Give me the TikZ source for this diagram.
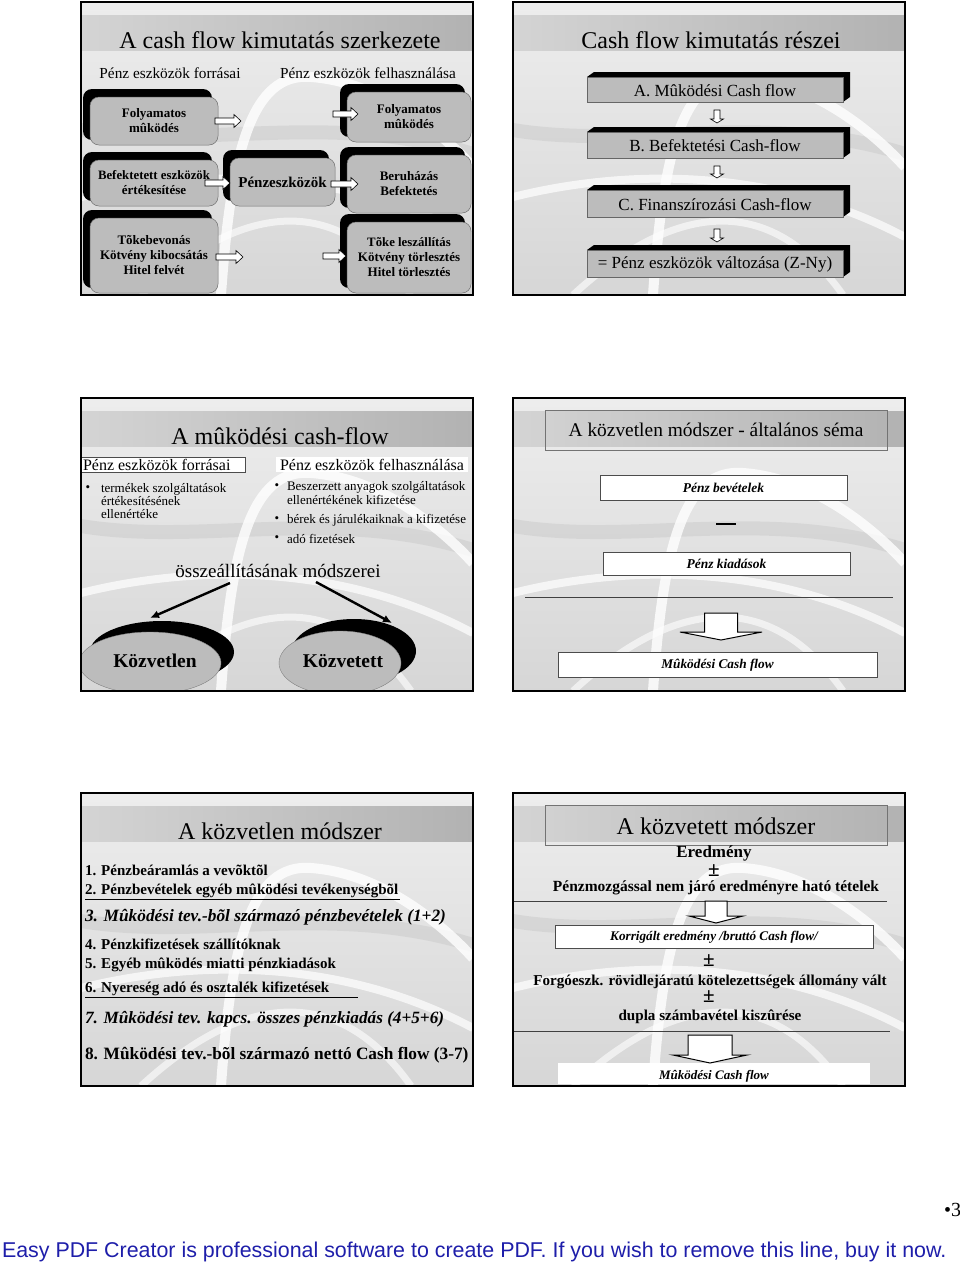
\documentclass[tikz,border=0pt]{standalone}
\usepackage{fontspec}
\setmainfont{Liberation Serif}
\newfontfamily\arialf{Liberation Sans}
\usetikzlibrary{shapes.geometric,arrows.meta}
\definecolor{bandL}{RGB}{212,212,212}
\definecolor{bandR}{RGB}{178,178,178}
\definecolor{boxgray}{RGB}{188,188,188}
\definecolor{footblue}{RGB}{30,30,170}
\newcommand{\fsz}[2]{\fontsize{#1}{#2}\selectfont}
\tikzset{
  x=1pt, y=-1pt,
  frame/.style={draw=black, line width=1.5pt},
  txt/.style={inner sep=0pt, outer sep=0pt},
  bx/.style={txt, align=center, font=\bfseries\fsz{13}{15}},
  frontbox/.style={fill=boxgray, draw=black!55, line width=0.5pt, rounded corners=9pt},
  flatbox/.style={fill=boxgray, draw=black!60, line width=0.5pt},
  whitebox/.style={fill=white, draw=black!70, line width=0.6pt},
  blockarrow/.style={fill=white, draw=black, line width=0.6pt},
  bigarrow/.style={fill=white, draw=black, line width=1pt},
  thickarrow/.style={line width=2.4pt, -{Latex[length=9pt,width=8pt]}},
  titletxt/.style={txt, font=\fsz{24}{28}},
}
% slide background: x, y of top-left corner
\newcommand{\cfbg}[2]{%
  \begin{scope}[shift={(#1,#2)}]
    \fill[top color=white!93!black, bottom color=white!84!black] (0,0) rectangle (392,293);
    \fill[left color=bandL, right color=bandR] (0,13) rectangle (392,48);
    \begin{scope}
      \clip (0,0) rectangle (392,293);
      \draw[black!22, line width=14pt, opacity=0.45] (0,128) .. controls (120,148) and (250,108) .. (392,152);
      \draw[white, line width=10pt, opacity=0.8] (140,293) .. controls (150,150) and (170,70) .. (230,75) .. controls (300,80) and (360,130) .. (392,165);
      \draw[white, line width=8pt, opacity=0.7] (0,195) .. controls (100,170) and (250,160) .. (392,235);
      \draw[white, line width=7pt, opacity=0.6] (60,293) .. controls (150,210) and (250,180) .. (330,293);
    \end{scope}
  \end{scope}}
\newcommand{\cfframe}[2]{\draw[frame] (#1,#2) rectangle ({#1+392},{#2+293});}
% rounded box with black back: name, x1, y1, x2, y2, text
\newcommand{\cfbox}[6]{%
  \fill[black, rounded corners=9pt] ({#2-7},{#3-8}) rectangle ({#4-6},{#5-5});
  \filldraw[frontbox] (#2,#3) rectangle (#4,#5);
  \node[bx] (#1) at ({(#2+#4)/2},{(#3+#5)/2}) {#6};}
% flat box with 3D black top/right: name, x1, y1, x2, y2, text
\newcommand{\cfflat}[6]{%
  \fill[black] (#2,#3) -- ({#2+7},{#3-5}) -- ({#4+7},{#3-5}) -- ({#4+7},{#5-5}) -- (#4,#5) -- cycle;
  \filldraw[flatbox] (#2,#3) rectangle (#4,#5);
  \node[txt, font=\fsz{17}{19}] (#1) at ({(#2+#4)/2},{(#3+#5)/2+1}) {#6};}
% right block arrow: x1, x2, y
\newcommand{\barrowR}[3]{%
  \filldraw[blockarrow] (#1,{#3-3}) -- ({#2-7},{#3-3}) -- ({#2-7},{#3-6.5}) -- (#2,#3) -- ({#2-7},{#3+6.5}) -- ({#2-7},{#3+3}) -- (#1,{#3+3}) -- cycle;}
% down block arrow: style, x, y1, y2, shaft half, head half, head length
\newcommand{\barrowD}[7]{%
  \filldraw[#1] ({#2-#5},#3) -- ({#2+#5},#3) -- ({#2+#5},{#4-#7}) -- ({#2+#6},{#4-#7}) -- (#2,#4) -- ({#2-#6},{#4-#7}) -- ({#2-#5},{#4-#7}) -- cycle;}
\begin{document}
\begin{tikzpicture}
\useasboundingbox (0,0) rectangle (960,1267);
\fill[white] (0,0) rectangle (960,1267);

\cfbg{81}{2}\cfbg{513}{2}\cfbg{81}{398}\cfbg{513}{398}\cfbg{81}{793}\cfbg{513}{793}

% ================= Slide 1 =================
\node[titletxt] (s1t) at (280,40) {A cash flow kimutatás szerkezete};
\node[txt, font=\fsz{15.3}{17}] (s1a) at (170,73) {Pénz eszközök forrásai};
\node[txt, font=\fsz{15.3}{17}] (s1b) at (368,73) {Pénz eszközök felhasználása};
\cfbox{L1}{90}{97}{218}{145}{Folyamatos\\mûködés}
\cfbox{L2}{90}{160}{218}{206}{\fsz{12.8}{15}Befektetett eszközök\\értékesítése}
\cfbox{L3}{90}{218}{218}{293}{\fsz{13}{19}Tõkebevonás\\Kötvény kibocsátás\\Hitel felvét}
\cfbox{C}{230}{158}{335}{206}{\fsz{15}{17}Pénzeszközök}
\cfbox{R1}{347}{92}{471}{142}{Folyamatos\\mûködés}
\cfbox{R2}{347}{155}{471}{213}{\fsz{13}{19}Beruházás\\Befektetés}
\cfbox{R3}{347}{222}{471}{293}{\fsz{12.8}{19}Tõke leszállítás\\Kötvény törlesztés\\Hitel törlesztés}
\barrowR{215}{241}{121}
\barrowR{333}{358}{114}
\barrowR{205}{230}{183}
\barrowR{331}{358}{184}
\barrowR{216}{243}{257}
\barrowR{323}{346}{256}

% ================= Slide 2 =================
\node[titletxt] (s2t) at (711,40) {Cash flow kimutatás részei};
\cfflat{B1}{587}{77}{843}{102}{A. Mûködési Cash flow}
\cfflat{B2}{587}{132}{843}{158}{B. Befektetési Cash-flow}
\cfflat{B3}{587}{190}{843}{217}{C. Finanszírozási Cash-flow}
\cfflat{B4}{587}{250}{843}{277}{= Pénz eszközök változása (Z-Ny)}
\barrowD{blockarrow}{717}{110}{123}{3}{6.5}{4}
\barrowD{blockarrow}{717}{166}{178}{3}{6.5}{4}
\barrowD{blockarrow}{717}{229}{242}{3}{6.5}{4}

% ================= Slide 3 =================
\node[titletxt] (s3t) at (280,436) {A mûködési cash-flow};
\filldraw[whitebox] (81,457) rectangle (245,472);
\fill[white] (276,457) rectangle (468,472);
\node[txt, font=\fsz{16}{17}, anchor=west] (s3a) at (83,464.5) {Pénz eszközök forrásai};
\node[txt, font=\fsz{16}{17}, anchor=west] (s3b) at (280,464.5) {Pénz eszközök felhasználása};
\node[txt, font=\fsz{13}{13}] (s3d1) at (88,489) {•};
\node[txt, font=\fsz{13}{13}, anchor=north west, align=left] (s3l) at (101,483) {termékek szolgáltatások\\értékesítésének\\ellenértéke};
\node[txt, font=\fsz{13}{14}] (s3d2) at (277,487) {•};
\node[txt, font=\fsz{13}{14}, anchor=north west, align=left] (s3r1) at (287,481) {Beszerzett anyagok szolgáltatások\\ellenértékének kifizetése};
\node[txt, font=\fsz{13}{14}] (s3d3) at (277,520) {•};
\node[txt, font=\fsz{13}{14}, anchor=west] (s3r2) at (287,520) {bérek és járulékaiknak a kifizetése};
\node[txt, font=\fsz{13}{14}] (s3d4) at (277,539) {•};
\node[txt, font=\fsz{13}{14}, anchor=west] (s3r3) at (287,539) {adó fizetések};
\node[txt, font=\fsz{19}{21}] (osm) at (278,571) {összeállításának módszerei};
\begin{scope}
  \clip (81,398) rectangle (473,691);
  \fill[black] (162,652) ellipse [x radius=72pt, y radius=31pt];
  \node[ellipse, fill=boxgray, draw=black!50, line width=0.4pt, minimum width=142pt, minimum height=62pt, inner sep=0pt] (kv) at (150,663) {};
  \fill[black] (354,651) ellipse [x radius=62pt, y radius=32pt];
  \node[ellipse, fill=boxgray, draw=black!50, line width=0.4pt, minimum width=122pt, minimum height=64pt, inner sep=0pt] (kt) at (340,663) {};
\end{scope}
\node[txt, font=\bfseries\fsz{19.5}{21}] (kvt) at (155,661) {Közvetlen};
\node[txt, font=\bfseries\fsz{19.5}{21}] (ktt) at (343,661) {Közvetett};
\coordinate (a1s) at (230,583);
\coordinate (a1e) at (150,618);
\coordinate (a2s) at (316,582);
\coordinate (a2e) at (392,623);
\draw[thickarrow] (a1s) -- (a1e);
\draw[thickarrow] (a2s) -- (a2e);

% ================= Slide 4 =================
\draw[black!55, line width=0.8pt] (545,410) rectangle (887,450);
\node[txt, font=\fsz{19.4}{21}] (s4t) at (716,430) {A közvetlen módszer - általános séma};
\filldraw[whitebox] (600,475) rectangle (847,500);
\node[txt, font=\bfseries\itshape\fsz{13.5}{15}] (pb) at (723.5,488) {Pénz bevételek};
\draw[line width=2.5pt] (716,524) -- (736,524);
\filldraw[whitebox] (603,552) rectangle (850,575);
\node[txt, font=\bfseries\itshape\fsz{13.5}{15}] (pk) at (726.5,564) {Pénz kiadások};
\draw[black!75, line width=0.9pt] (525,597) -- (893,597);
\barrowD{bigarrow}{721}{613}{640}{16.5}{41}{8}
\filldraw[whitebox] (558,652) rectangle (877,677);
\node[txt, font=\bfseries\itshape\fsz{13.3}{15}] (mcf1) at (717.5,665) {Mûködési Cash flow};

% ================= Slide 5 =================
\node[titletxt] (s5t) at (280,831) {A közvetlen módszer};
\node[txt, anchor=west, font=\bfseries\fsz{15}{17}] (i1) at (85,870) {1. Pénzbeáramlás a vevõktõl};
\node[txt, anchor=west, font=\bfseries\fsz{15}{17}] (i2) at (85,891) {2. Pénzbevételek egyéb mûködési tevékenységbõl};
\draw[line width=0.8pt] (85,899) -- (400,899);
\node[txt, anchor=west, font=\bfseries\itshape\fsz{17.3}{19}] (i3) at (85,917) {3. Mûködési tev.-bõl származó pénzbevételek (1+2)};
\node[txt, anchor=west, font=\bfseries\fsz{15}{17}] (i4) at (85,944) {4. Pénzkifizetések szállítóknak};
\node[txt, anchor=west, font=\bfseries\fsz{15}{17}] (i5) at (85,965) {5. Egyéb mûködés miatti pénzkiadások};
\node[txt, anchor=west, font=\bfseries\fsz{15}{17}] (i6) at (85,989) {6. Nyereség adó és osztalék kifizetések};
\draw[line width=0.8pt] (85,997) -- (358,997);
\node[txt, anchor=west, font=\bfseries\itshape\fsz{17.2}{19}] (i7) at (85,1019) {7. Mûködési tev. kapcs. összes pénzkiadás (4+5+6)};
\node[txt, anchor=west, font=\bfseries\fsz{17.3}{19}] (i8) at (85,1055) {8. Mûködési tev.-bõl származó nettó Cash flow (3-7)};

% ================= Slide 6 =================
\draw[black!55, line width=0.8pt] (545,805) rectangle (887,845);
\node[titletxt] (s6t) at (716,826) {A közvetett módszer};
\node[txt, font=\bfseries\fsz{17}{19}] (er) at (714,853) {Eredmény};
\node[txt, font=\bfseries\fsz{21}{21}] (pm1) at (714,871) {±};
\node[txt, font=\bfseries\fsz{15.5}{17}] (pnj) at (716,888) {Pénzmozgással nem járó eredményre ható tételek};
\draw[black!75, line width=0.9pt] (513,901) -- (887,901);
\barrowD{bigarrow}{716}{901}{923}{11}{27}{7}
\filldraw[whitebox] (555,925) rectangle (873,948);
\node[txt, font=\bfseries\itshape\fsz{13.2}{15}] (kor) at (714,937) {Korrigált eredmény /bruttó Cash flow/};
\node[txt, font=\bfseries\fsz{21}{21}] (pm2) at (709,961) {±};
\node[txt, font=\bfseries\fsz{15.1}{17}] (fe) at (710,982) {Forgóeszk. rövidlejáratú kötelezettségek állomány vált};
\node[txt, font=\bfseries\fsz{21}{21}] (pm3) at (709,997) {±};
\node[txt, font=\bfseries\fsz{15.1}{17}] (dsz) at (710,1017) {dupla számbavétel kiszûrése};
\draw[black!75, line width=0.9pt] (513,1031) -- (890,1031);
\fill[white] (558,1063) rectangle (870,1084);
\barrowD{bigarrow}{710}{1035}{1063}{22}{37}{8}
\node[txt, font=\bfseries\itshape\fsz{13}{15}] (mcf2) at (714,1076) {Mûködési Cash flow};

\cfframe{81}{2}\cfframe{513}{2}\cfframe{81}{398}\cfframe{513}{398}\cfframe{81}{793}\cfframe{513}{793}

% ================= Page footer =================
\node[txt, anchor=west, font=\fsz{20}{22}] (pgn) at (944,1210) {•3};
\node[txt, anchor=west, font=\arialf\fsz{21.4}{23}, text=footblue] (foot) at (2,1252) {Easy PDF Creator is professional software to create PDF. If you wish to remove this line, buy it now.};
\end{tikzpicture}
\end{document}
